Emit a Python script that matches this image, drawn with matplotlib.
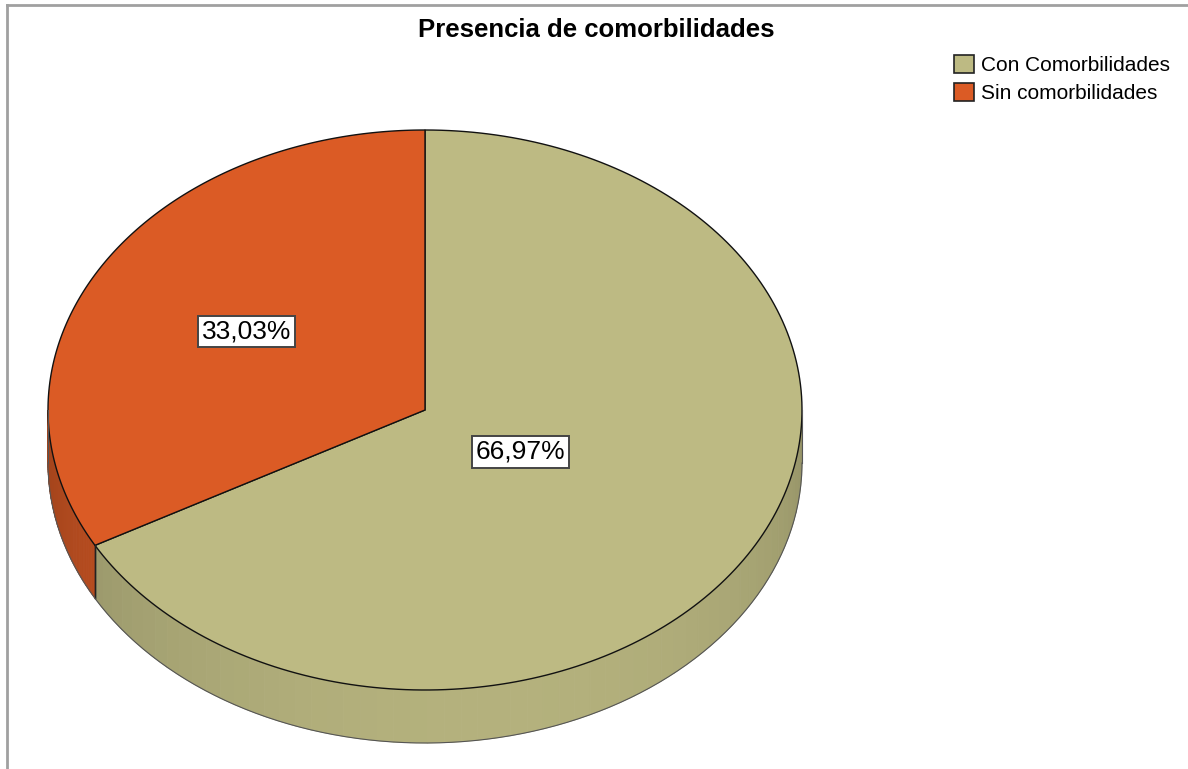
import numpy as np
import matplotlib.pyplot as plt
from matplotlib.patches import Polygon, Rectangle
import matplotlib.colors as mcolors

categorias = ['Con Comorbilidades', 'Sin comorbilidades']
porcentajes = [66.97, 33.03]
etiquetas = ['66,97%', '33,03%']
colores = ['#bdba83', '#db5b25']

plt.rcParams['font.family'] = ['Liberation Sans', 'DejaVu Sans']

fig = plt.figure(figsize=(11.88, 7.69), dpi=100)
ax = fig.add_axes([0, 0, 1, 1])
ax.set_xlim(0, 1188)
ax.set_ylim(769, 0)
ax.axis('off')

# geometria del pastel (pixeles)
cx, cy = 425, 410
rx, ry = 377, 280
prof = 53


def borde(t):
    return cx + rx * np.cos(t), cy - ry * np.sin(t)


def sombra(color, f):
    r, g, b = mcolors.to_rgb(color)
    return (r * f, g * f, b * f)


# angulos: empieza arriba y va en sentido horario
total = sum(porcentajes)
fin = 90.0
rangos = []
for p in porcentajes:
    ini = fin - p / total * 360
    rangos.append((ini, fin))
    fin = ini

# cara lateral (solo la mitad inferior es visible)
for (ini, fin), col in zip(rangos, colores):
    a0 = ini % 360
    a1 = a0 + (fin - ini)
    for base in (0, 360):
        lo = max(a0, 180 + base)
        hi = min(a1, 360 + base)
        if hi <= lo:
            continue
        ts = np.linspace(np.radians(lo), np.radians(hi), 60)
        for t1, t2 in zip(ts[:-1], ts[1:]):
            tm = 0.5 * (t1 + t2)
            f = 0.76 + 0.19 * (-np.sin(tm)) + 0.03 * np.cos(tm)
            x1, y1 = borde(t1)
            x2, y2 = borde(t2)
            ax.add_patch(Polygon([(x1, y1), (x2, y2), (x2, y2 + prof), (x1, y1 + prof)],
                                 closed=True, facecolor=sombra(col, f),
                                 edgecolor=sombra(col, f), lw=0.6, zorder=1))
        # linea vertical en el limite entre sectores
        for a in (lo, hi):
            if 180 < a % 360 < 360 and abs(a % 360 - 180) > 0.5 and abs(a % 360 - 360) > 0.5:
                x, y = borde(np.radians(a))
                ax.plot([x, x], [y, y + prof], color='#222222', lw=1.0, zorder=3)

# contorno inferior
ts = np.linspace(np.pi, 2 * np.pi, 200)
xb, yb = borde(ts)
ax.plot(xb, yb + prof, color='#555555', lw=0.8, zorder=3)
ax.plot([xb[0], xb[0]], [yb[0], yb[0] + prof], color='#555555', lw=0.8, zorder=3)
ax.plot([xb[-1], xb[-1]], [yb[-1], yb[-1] + prof], color='#555555', lw=0.8, zorder=3)

# cara superior
for (ini, fin), col in zip(rangos, colores):
    ts = np.radians(np.linspace(ini, fin, 200))
    xs, ys = borde(ts)
    pts = [(cx, cy)] + list(zip(xs, ys))
    ax.add_patch(Polygon(pts, closed=True, facecolor=col, edgecolor='#111111',
                         lw=1.0, zorder=2))

# etiquetas
radios = [0.295, 0.55]
for (ini, fin), txt, r in zip(rangos, etiquetas, radios):
    tm = np.radians(0.5 * (ini + fin))
    x = cx + r * rx * np.cos(tm)
    y = cy - r * ry * np.sin(tm)
    ax.text(x, y, txt, fontsize=19, ha='center', va='center', zorder=5,
            bbox=dict(boxstyle='square,pad=0.14', facecolor='white',
                      edgecolor='#444444', lw=1.4))

ax.text(596, 30, 'Presencia de comorbilidades', fontsize=18.5, fontweight='bold',
        ha='center', va='center')

# marco
ax.plot([7, 1188], [5, 5], color='#a0a0a0', lw=2, zorder=0)
ax.plot([7, 7], [5, 769], color='#a0a0a0', lw=2, zorder=0)

handles = [Rectangle((0, 0), 1, 1, facecolor=c, edgecolor='#222222', lw=1.2) for c in colores]
fig.legend(handles, categorias, loc='upper left', bbox_to_anchor=(954 / 1188, 1 - 55 / 769),
           frameon=False, fontsize=15, handlelength=0.95, handleheight=0.95,
           handletextpad=0.35, labelspacing=0.38, borderpad=0, borderaxespad=0)

fig.savefig('out.png', dpi=100)
